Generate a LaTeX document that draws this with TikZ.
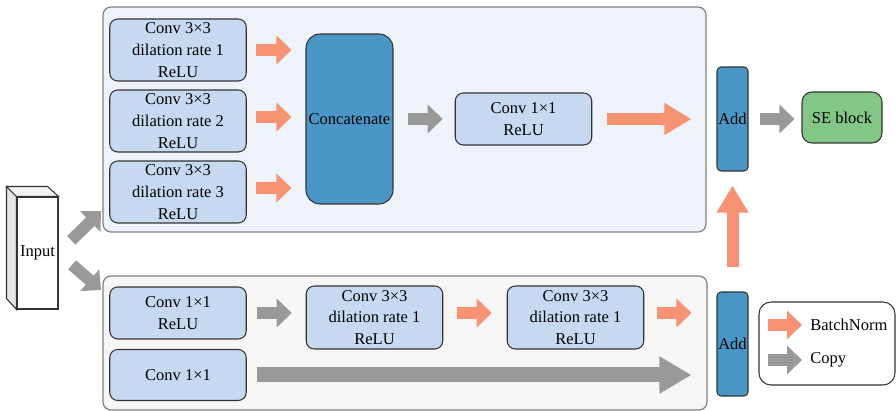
\documentclass[tikz,border=0pt]{standalone}
\usepackage{fontspec}
\setmainfont{Liberation Serif}
\usetikzlibrary{arrows.meta}
\definecolor{panelblue}{HTML}{EEF3FA}
\definecolor{panelgray}{HTML}{F6F6F6}
\definecolor{convblue}{HTML}{C6D9F0}
\definecolor{catblue}{HTML}{4A96C6}
\definecolor{bnorange}{HTML}{F79272}
\definecolor{cpgray}{HTML}{999999}
\definecolor{segreen}{HTML}{82C785}
\tikzset{
  panel/.style={draw=black!50, line width=0.7pt, rounded corners=0.16cm},
  convbox/.style={draw=black!80, line width=0.6pt, fill=convblue, rounded corners=0.16cm, align=center, minimum width=2.73cm, inner sep=0pt},
  catbox/.style={draw=black!80, line width=0.6pt, fill=catblue, rounded corners=0.28cm, minimum width=1.74cm, minimum height=3.4cm, inner sep=0pt},
  addbox/.style={draw=black!80, line width=0.6pt, fill=catblue, rounded corners=0.08cm, minimum width=0.62cm, minimum height=2.08cm, inner sep=0pt},
  sebox/.style={draw=black!80, line width=0.6pt, fill=segreen, rounded corners=0.2cm, minimum width=1.6cm, minimum height=1.02cm},
  bnarrow/.style={draw=bnorange, line width=0.24cm, -{Triangle[width=0.56cm,length=0.3cm]}},
  cparrow/.style={draw=cpgray, line width=0.24cm, -{Triangle[width=0.56cm,length=0.3cm]}},
  bigbn/.style={draw=bnorange, line width=0.24cm, -{Triangle[width=0.6cm,length=0.54cm]}},
  bigcp/.style={draw=cpgray, line width=0.3cm, -{Triangle[width=0.7cm,length=0.64cm]}}
}

\begin{document}
\begin{tikzpicture}[x=0.02cm, y=-0.02cm, font=\fontsize{9.4}{12.4}\selectfont]
	\useasboundingbox (0,0) rectangle (896,411);
	\draw[panel, fill=panelblue] (103,7) rectangle (706,232);
	\draw[panel, fill=panelgray] (103,276) rectangle (707,410);
	\node[convbox, minimum height=1.24cm] (b1) at (178,50) {Conv 3×3\\dilation rate 1\\ReLU};
	\node[convbox, minimum height=1.24cm] (b2) at (178,121) {Conv 3×3\\dilation rate 2\\ReLU};
	\node[convbox, minimum height=1.24cm] (b3) at (178,192) {Conv 3×3\\dilation rate 3\\ReLU};
	\node[catbox] (cat) at (349.5,119) {Concatenate};
	\node[convbox, minimum height=1.04cm] (c11) at (523.5,119) {Conv 1×1\\ReLU};
	\node[addbox] (add1) at (732.5,119) {Add};
	\node[sebox] (se) at (842,117.5) {SE block};
	\node[convbox, minimum height=1.04cm] (r1) at (178,313) {Conv 1×1\\ReLU};
	\node[convbox, minimum height=1.02cm] (c1) at (178,375) {Conv 1×1};
	\node[convbox, minimum height=1.26cm] (d1) at (374.5,317.5) {Conv 3×3\\dilation rate 1\\ReLU};
	\node[convbox, minimum height=1.26cm] (d2) at (575.5,317.5) {Conv 3×3\\dilation rate 1\\ReLU};
	\node[addbox] (add2) at (732.5,344) {Add};
	\node[draw=black!80, line width=0.6pt, fill=white, rounded corners=0.24cm, minimum width=2.72cm, minimum height=1.66cm] (leg) at (827,343.5) {};
	\node[anchor=west, inner sep=0pt] (bnlab) at (810,325) {BatchNorm};
	\node[anchor=west, inner sep=0pt] (cplab) at (810,360) {Copy};
	\node[draw=black!80, line width=0.6pt, fill=white, minimum width=0.82cm, minimum height=2.24cm, inner sep=0pt] (in) at (37.5,253) {Input};
	\draw[line width=0.6pt, draw=black!80, fill=black!10] (in.north west) -- ++(-10,-10) -- ++(0,112) -- (in.south west) -- cycle;
	\draw[line width=0.6pt, draw=black!80, fill=black!5] (in.north west) -- ++(-10,-10) -- ++(41,0) -- (in.north east) -- cycle;
	\coordinate (toup) at (101,211);
	\coordinate (todown) at (101,290);
	\draw[cparrow, shorten <=0.36cm] (in.east) -- (toup);
	\draw[cparrow, shorten <=0.36cm] (in.east) -- (todown);
	\draw[bnarrow, shorten <=0.18cm, shorten >=0.28cm] (b1.east) -- (b1.east -| cat.west);
	\draw[bnarrow, shorten <=0.18cm, shorten >=0.28cm] ([yshift=0.08cm]b2.east) -- ([yshift=0.08cm]b2.east -| cat.west);
	\draw[bnarrow, shorten <=0.18cm, shorten >=0.28cm] ([yshift=0.08cm]b3.east) -- ([yshift=0.08cm]b3.east -| cat.west);
	\draw[cparrow, shorten <=0.28cm, shorten >=0.24cm] (cat.east) -- (c11.west);
	\draw[bigbn, shorten <=0.3cm, shorten >=0.5cm] (c11.east) -- (add1.west);
	\draw[cparrow, shorten <=0.22cm, shorten >=0.14cm] (add1.east) -- (add1.east -| se.west);
	\draw[bigbn, shorten <=0.48cm, shorten >=0.28cm] (add2.north) -- (add1.south);
	\draw[cparrow, shorten <=0.2cm, shorten >=0.28cm] (r1.east) -- (r1.east -| d1.west);
	\draw[bnarrow, shorten <=0.28cm, shorten >=0.3cm] (r1.east -| d1.east) -- (r1.east -| d2.west);
	\draw[bnarrow, shorten <=0.26cm, shorten >=0.5cm] (r1.east -| d2.east) -- (r1.east -| add2.west);
	\draw[bigcp, shorten <=0.2cm, shorten >=0.5cm] (c1.east) -- (c1.east -| add2.west);
	\draw[bnarrow, shorten <=0.2cm, shorten >=0.16cm] (leg.west |- bnlab.west) -- (bnlab.west);
	\draw[cparrow, shorten <=0.2cm, shorten >=0.16cm] (leg.west |- cplab.west) -- (cplab.west);
\end{tikzpicture}
\end{document}
